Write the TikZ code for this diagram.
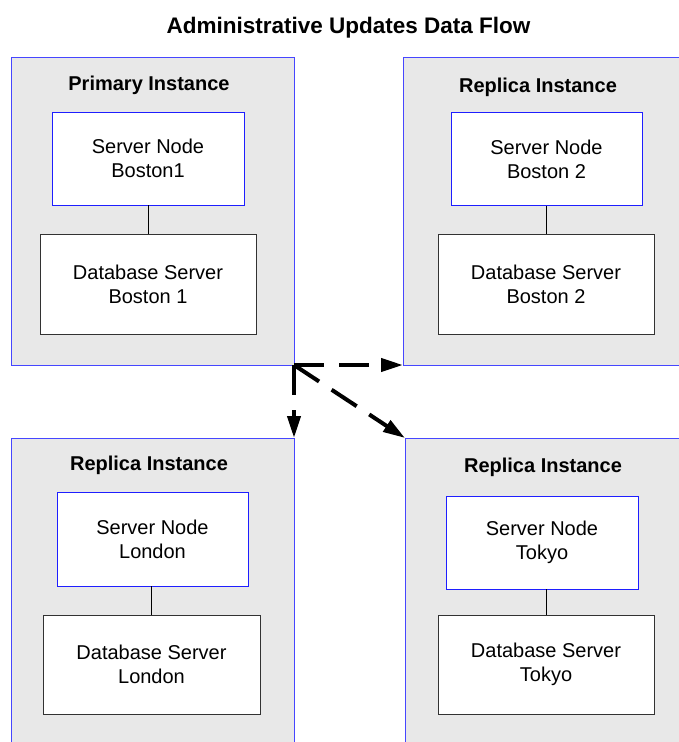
\documentclass[tikz,border=0pt]{standalone}
\usepackage{fontspec}
\setmainfont{Liberation Sans}
\usetikzlibrary{arrows.meta}
\definecolor{instfill}{RGB}{232,232,232}
\definecolor{instline}{RGB}{70,70,255}
\definecolor{snline}{RGB}{30,30,255}
\definecolor{dbline}{RGB}{50,50,50}
\begin{document}
\begin{tikzpicture}[x=1pt,y=-1pt,
  inst/.style={draw=instline, fill=instfill, line width=0.9pt, inner sep=0pt, outer sep=0pt},
  snode/.style={draw=snline, fill=white, line width=0.9pt, align=center, inner sep=0pt,
    font=\fontsize{20}{24}\selectfont, minimum width=191pt, minimum height=93pt},
  dbnode/.style={draw=dbline, fill=white, line width=0.9pt, align=center, inner sep=0pt,
    font=\fontsize{20}{24}\selectfont, minimum width=216pt, minimum height=100pt},
  ititle/.style={font=\bfseries\fontsize{20}{24}\selectfont, inner sep=0pt},
  mtitle/.style={font=\bfseries\fontsize{22.5}{27}\selectfont, inner sep=0pt},
  link/.style={draw=black, line width=0.8pt},
  flow/.style={draw=black, line width=4pt, dash pattern=on 30pt off 15pt,
    -{Triangle[length=22pt,width=13pt]}}
]
\clip (0,0) rectangle (679,742);
\fill[white] (0,0) rectangle (679,742);

\node[mtitle] (title) at (348.5,27.5) {Administrative Updates Data Flow};

% instance boxes
\node[inst, minimum width=283pt, minimum height=308pt] (p)  at (152.5,211) {};
\node[inst, minimum width=307pt, minimum height=308pt] (r1) at (556.5,211) {};
\node[inst, minimum width=283pt, minimum height=332pt] (r2) at (152.5,604) {};
\node[inst, minimum width=305pt, minimum height=332pt] (r3) at (557.5,604) {};

% titles
\node[ititle] (pt)  at (149,85) {Primary Instance};
\node[ititle] (r1t) at (538,87) {Replica Instance};
\node[ititle] (r2t) at (149,465) {Replica Instance};
\node[ititle] (r3t) at (543,467) {Replica Instance};

% server nodes
\node[snode, minimum width=192pt] (sn1) at (148,158.5) {Server Node\\Boston1};
\node[snode] (sn2) at (546.5,159) {Server Node\\Boston 2};
\node[snode, minimum height=94pt] (sn3) at (152.5,539) {Server Node\\London};
\node[snode, minimum width=192pt] (sn4) at (542,542.5) {Server Node\\Tokyo};

% database servers
\node[dbnode] (db1) at (148,284) {Database Server\\Boston 1};
\node[dbnode] (db2) at (546,284) {Database Server\\Boston 2};
\node[dbnode, minimum width=217pt, minimum height=99pt] (db3) at (151.5,664.5) {Database Server\\London};
\node[dbnode, minimum height=99pt] (db4) at (546,664.5) {Database Server\\Tokyo};

% links
\draw[link] (db1.north) -- (db1.north |- sn1.south);
\draw[link] (db2.north) -- (db2.north |- sn2.south);
\draw[link] (db3.north) -- (db3.north |- sn3.south);
\draw[link] (db4.north) -- (db4.north |- sn4.south);

% data flow
\draw[flow] (p.south east) -- (r1.south west);
\draw[flow] (p.south east) -- (r2.north east);
\draw[flow] (p.south east) -- (r3.north west);
\end{tikzpicture}
\end{document}
